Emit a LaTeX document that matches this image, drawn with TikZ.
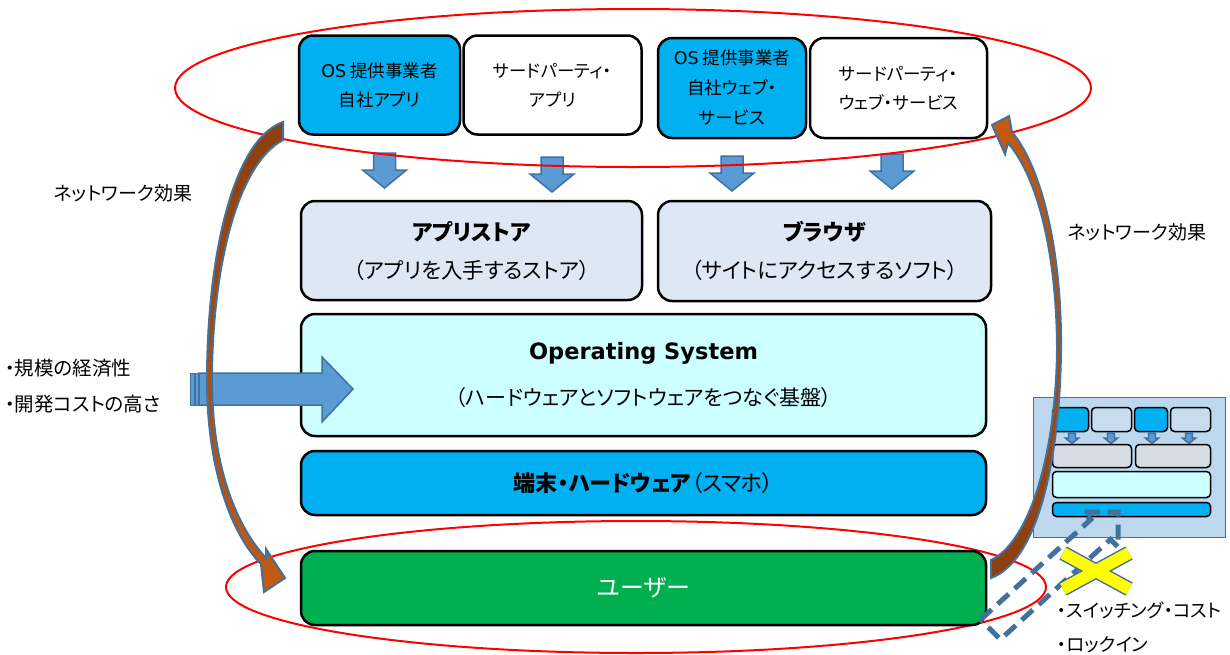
\documentclass[tikz,border=0pt]{standalone}
\usepackage{fontspec}
\setmainfont{Noto Sans CJK JP}[RawFeature=+palt]
\newfontfamily\latinfont{DejaVu Sans}
\definecolor{cyanbox}{HTML}{00B0F0}
\definecolor{midbox}{HTML}{DEE8F5}
\definecolor{osbox}{HTML}{CCFFFF}
\definecolor{greenbox}{HTML}{00B050}
\definecolor{arrfill}{HTML}{5B9BD5}
\definecolor{arrline}{HTML}{41719C}
\definecolor{brownA}{HTML}{8B3E0F}
\definecolor{brownB}{HTML}{C55A11}
\definecolor{minibg}{HTML}{BDD7EE}
\definecolor{minilight}{HTML}{C8DCF0}
\definecolor{minigray}{HTML}{D6DCE4}
\definecolor{xyellow}{HTML}{FFFF00}
\begin{document}
\begin{tikzpicture}[x=1pt,y=-1pt,
  box/.style={draw=black, line width=2.5pt, rounded corners=14pt, inner sep=0pt, align=center},
  minibox/.style={draw=black, line width=1.5pt, rounded corners=4pt, inner sep=0pt},
  topfont/.style={font={\fontsize{17.5}{29}\selectfont}},
  midfont/.style={font={\fontsize{21.5}{38}\selectfont}},
  redring/.style={draw=red, line width=2pt},
  blockarrow/.style={fill=arrfill, draw=arrline, line width=1.5pt},
  curvearrow/.style={draw=arrline, line width=2pt},
  plain/.style={inner sep=0pt, anchor=west},
  darr/.pic={\path[blockarrow] (-11,0) -- (11,0) -- (11,17) -- (22,17) -- (0,35) -- (-22,17) -- (-11,17) -- cycle;}
]
\useasboundingbox (0,0) rectangle (1230,654);
\fill[white] (0,0) rectangle (1230,654);

% down arrows
\pic at (384.5,153) {darr};
\pic at (552,157) {darr};
\pic at (732,156) {darr};
\pic at (892,154) {darr};

% top red ellipse
\draw[redring] (633,88) ellipse [x radius=458, y radius=79];

% top boxes
\node[box, topfont, fill=cyanbox, minimum width=161, minimum height=99] (osapp) at (379.5,85)
  {{\latinfont OS} 提供事業者\\自社アプリ};
\node[box, topfont, fill=white, minimum width=178, minimum height=99] (tpapp) at (552.5,85)
  {サードパーティ・\\アプリ};
\node[box, font={\fontsize{17.5}{30}\selectfont}, fill=cyanbox, minimum width=148, minimum height=100] (osweb) at (732,88)
  {{\latinfont OS} 提供事業者\\自社ウェブ・\\サービス};
\node[box, topfont, fill=white, minimum width=177, minimum height=100] (tpweb) at (898.5,88)
  {サードパーティ・\\ウェブ・サービス};

% middle boxes
\node[box, midfont, fill=midbox, minimum width=341, minimum height=99] (store) at (471.5,250.5)
  {{\fontsize{22}{38}\selectfont\bfseries アプリストア}\\（アプリを入手するストア）};
\node[box, midfont, fill=midbox, minimum width=333, minimum height=100] (browser) at (824.5,251)
  {{\fontsize{22}{38}\selectfont\bfseries ブラウザ}\\（サイトにアクセスするソフト）};
\node[box, font={\fontsize{21}{46}\selectfont}, fill=osbox, minimum width=685, minimum height=122] (os) at (643.5,375)
  {{\latinfont\bfseries\fontsize{22.5}{46}\selectfont Operating System}\\（ハードウェアとソフトウェアをつなぐ基盤）};
\node[box, font={\fontsize{22}{26}\selectfont}, fill=cyanbox, minimum width=685, minimum height=64] (device) at (643.5,483)
  {\textbf{端末・ハードウェア}（スマホ）};

% left block arrow
\path[blockarrow] (199,373) -- (322,373) -- (322,357) -- (353,389) -- (322,422) -- (322,405) -- (199,405) -- cycle;
\path[blockarrow, line width=1pt] (190,373) rectangle (194,405);
\path[blockarrow, line width=1pt] (195.5,373) rectangle (198,405);

% bottom red ellipse
\draw[redring] (636,587) ellipse [x radius=410, y radius=66];

% user box
\node[box, font={\fontsize{24}{28}\selectfont}, text=white, fill=greenbox, minimum width=685, minimum height=74] (user) at (643.5,588)
  {ユーザー};

% mini diagram
\node[draw=arrline, line width=1.5pt, fill=minibg, minimum width=192, minimum height=140, inner sep=0pt] (minibg) at (1129.5,467.5) {};
\node[minibox, fill=cyanbox, minimum width=36, minimum height=24] (m1) at (1070.5,419.5) {};
\node[minibox, fill=minilight, minimum width=40, minimum height=24] (m2) at (1111.5,419.5) {};
\node[minibox, fill=cyanbox, minimum width=33, minimum height=24] (m3) at (1151,419.5) {};
\node[minibox, fill=minilight, minimum width=40, minimum height=24] (m4) at (1190.5,419.5) {};
\pic[scale=0.3] at (1072,433) {darr};
\pic[scale=0.3] at (1111,433) {darr};
\pic[scale=0.3] at (1152,433) {darr};
\pic[scale=0.3] at (1189,433) {darr};
\node[minibox, fill=minigray, minimum width=79, minimum height=23] (m5) at (1092,456) {};
\node[minibox, fill=minigray, minimum width=75, minimum height=23] (m6) at (1173,456) {};
\node[minibox, fill=osbox, minimum width=158, minimum height=26] (m7) at (1131.5,484.5) {};
\node[minibox, fill=cyanbox, minimum width=158, minimum height=14] (m8) at (1131.5,509.5) {};

% curved arrows (network effect)
\path[curvearrow, top color=brownA, bottom color=brownB]
  (283,122) .. controls (232,140) and (207,260) .. (207,380)
  .. controls (207,470) and (232,535) .. (261,564) -- (264,592) -- (285,578) -- (266,549) -- (266,558)
  .. controls (238,528) and (212,470) .. (212,380)
  .. controls (212,272) and (236,165) .. (283,140) -- cycle;
\path[curvearrow, top color=brownB, bottom color=brownA]
  (992,125) -- (1009,116) -- (1012,132) .. controls (1045,172) and (1062,262) .. (1061,350)
  .. controls (1060,452) and (1040,560) .. (991,578) -- (991,560)
  .. controls (1030,542) and (1056,452) .. (1057,350)
  .. controls (1057,262) and (1040,180) .. (1008,143) -- (1005,154) -- cycle;

% dashed switching arrow
\coordinate (dt1) at (980.6,619.6);
\coordinate (dh1) at (1090.6,519.6);
\coordinate (db1) at (1083,512);
\coordinate (dtip) at (1118,512);
\coordinate (db2) at (1118,547);
\coordinate (dh2) at (1110.4,539.4);
\coordinate (dt2) at (1000.4,639.4);
\draw[arrline, line width=5pt, dash pattern=on 15pt off 8pt, line join=miter]
  (dt1) -- (dh1) -- (db1) -- (dtip) -- (db2) -- (dh2) -- (dt2) -- cycle;

% yellow cross
\coordinate (xa1) at (1063,553);
\coordinate (xa2) at (1129,589);
\coordinate (xb1) at (1063,589);
\coordinate (xb2) at (1129,553);
\draw[arrline, line width=15pt] (xa1) -- (xa2) (xb1) -- (xb2);
\draw[xyellow, line width=12pt] (xa1) -- (xa2) (xb1) -- (xb2);

% texts
\node[font={\fontsize{19}{22}\selectfont}] (netl) at (123,193) {ネットワーク効果};
\node[font={\fontsize{19}{22}\selectfont}] (netr) at (1137,232) {ネットワーク効果};
\node[plain, font={\fontsize{19.5}{22}\selectfont}] (scale) at (5,368) {・規模の経済性};
\node[plain, font={\fontsize{19.5}{22}\selectfont}] (devcost) at (5,404) {・開発コストの高さ};
\node[plain, font={\fontsize{18.5}{22}\selectfont}] (switch) at (1057,610) {・スイッチング・コスト};
\node[plain, font={\fontsize{18.5}{22}\selectfont}] (lockin) at (1057,645) {・ロックイン};
\end{tikzpicture}
\end{document}
